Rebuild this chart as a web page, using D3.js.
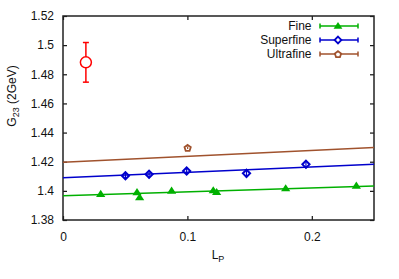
<!DOCTYPE html>
<html>
<head>
<meta charset="utf-8">
<script src="https://cdn.jsdelivr.net/npm/d3@7"></script>
<style>
  body { margin: 0; background: #fff; }
  text { font-family: "Liberation Sans", Arial, sans-serif; font-size: 12px; fill: #111; }
</style>
</head>
<body>
<svg id="chart" width="399" height="279"></svg>
<script>
// data
const fineLP = [0.0303, 0.0595, 0.0616, 0.0873, 0.1208, 0.1235, 0.179, 0.2358];
const fineG = [1.3978, 1.3990, 1.3955, 1.4001, 1.4003, 1.3991, 1.4017, 1.4035];
const superLP = [0.0502, 0.0692, 0.0994, 0.1475, 0.1953];
const superG = [1.4104, 1.4114, 1.4136, 1.4120, 1.4182];
const ultraLP = [0.1002];
const ultraG = [1.4296];
const ultraErr = [0.0008];
const contLP = [0.0184];
const contG = [1.4882];
const contErr = [0.0136];
// fit lines: value at L_P = 0 and L_P = 0.25
const fitEnds = [0, 0.25];
const fineFit = [1.3967, 1.4033];
const superFit = [1.4090, 1.4182];
const ultraFit = [1.4197, 1.4297];
const yTicks = [1.38, 1.40, 1.42, 1.44, 1.46, 1.48, 1.50, 1.52];
const xTicks = [0, 0.1, 0.2];
const seriesNames = ["Fine", "Superfine", "Ultrafine"];

const GREEN = "#00b000", BLUE = "#0000cc", BROWN = "#a0522d", RED = "#ff0000";

const svg = d3.select("#chart");
const MARGIN = { left: 63, right: 25, top: 16, bottom: 59 };
const W = 399, H = 279;

const x = d3.scaleLinear().domain([0, 0.25]).range([MARGIN.left, W - MARGIN.right]);
const y = d3.scaleLinear().domain([1.38, 1.52]).range([H - MARGIN.bottom, MARGIN.top]);

const yFmt = d => String(+d.toFixed(2));
const xFmt = d => String(+d.toFixed(1));

// axes with inward ticks, mirrored on the opposite sides
svg.append("g").attr("transform", `translate(0,${y.range()[0]})`)
  .call(d3.axisBottom(x).tickValues(xTicks).tickFormat(xFmt).tickSizeInner(-4).tickSizeOuter(0).tickPadding(12));
svg.append("g").attr("transform", `translate(0,${y.range()[1]})`)
  .call(d3.axisTop(x).tickValues(xTicks).tickFormat("").tickSizeInner(-4).tickSizeOuter(0));
svg.append("g").attr("transform", `translate(${x.range()[0]},0)`)
  .call(d3.axisLeft(y).tickValues(yTicks).tickFormat(yFmt).tickSizeInner(-4).tickSizeOuter(0).tickPadding(9));
svg.append("g").attr("transform", `translate(${x.range()[1]},0)`)
  .call(d3.axisRight(y).tickValues(yTicks).tickFormat("").tickSizeInner(-4).tickSizeOuter(0));

svg.selectAll(".domain").remove();
svg.selectAll(".tick line").attr("stroke", "#111").attr("stroke-width", 1.2);
svg.selectAll(".tick text").style("font-size", "12px").attr("fill", "#111");

// frame
svg.append("rect")
  .attr("x", x.range()[0]).attr("y", y.range()[1])
  .attr("width", x.range()[1] - x.range()[0]).attr("height", y.range()[0] - y.range()[1])
  .attr("fill", "none").attr("stroke", "#222").attr("stroke-width", 1.5);

// fit lines
const fits = [[fineFit, GREEN], [superFit, BLUE], [ultraFit, BROWN]];
fits.forEach(([vals, col]) => {
  svg.append("line")
    .attr("x1", x(fitEnds[0])).attr("y1", y(vals[0]))
    .attr("x2", x(fitEnds[1])).attr("y2", y(vals[1]))
    .attr("stroke", col).attr("stroke-width", 1.5);
});

// marker helpers
const tri = (cx, cy, r) => `M${cx},${cy - r}L${cx + r * 1.1},${cy + r * 0.7}L${cx - r * 1.1},${cy + r * 0.7}Z`;
const dia = (cx, cy, r) => `M${cx},${cy - r}L${cx + r},${cy}L${cx},${cy + r}L${cx - r},${cy}Z`;
const pent = (cx, cy, r) => d3.range(5).map(i => {
  const a = -Math.PI / 2 + i * 2 * Math.PI / 5;
  return (i ? "L" : "M") + (cx + r * Math.cos(a)) + "," + (cy + r * Math.sin(a));
}).join("") + "Z";

function errBar(g, cx, cy0, cy1, col, w) {
  g.append("line").attr("x1", cx).attr("x2", cx).attr("y1", cy0).attr("y2", cy1)
    .attr("stroke", col).attr("stroke-width", w);
}

// Fine
const gF = svg.append("g");
fineLP.forEach((lp, i) => {
  gF.append("path").attr("d", tri(x(lp), y(fineG[i]), 4.2)).attr("fill", GREEN);
});

// Superfine
const gS = svg.append("g");
superLP.forEach((lp, i) => {
  errBar(gS, x(lp), y(superG[i]) - 4, y(superG[i]) + 4, BLUE, 1.2);
  gS.append("path").attr("d", dia(x(lp), y(superG[i]), 3.6))
    .attr("fill", "none").attr("stroke", BLUE).attr("stroke-width", 2);
});

// Ultrafine
const gU = svg.append("g");
ultraLP.forEach((lp, i) => {
  errBar(gU, x(lp), y(ultraG[i] + ultraErr[i]), y(ultraG[i] - ultraErr[i]), BROWN, 1.2);
  gU.append("path").attr("d", pent(x(lp), y(ultraG[i]) + 0.5, 3.3))
    .attr("fill", "none").attr("stroke", BROWN).attr("stroke-width", 1.8);
});

// continuum point
const gC = svg.append("g");
contLP.forEach((lp, i) => {
  const cx = x(lp), top = y(contG[i] + contErr[i]), bot = y(contG[i] - contErr[i]);
  errBar(gC, cx, top, bot, RED, 1.5);
  gC.append("line").attr("x1", cx - 3).attr("x2", cx + 3).attr("y1", top).attr("y2", top).attr("stroke", RED).attr("stroke-width", 1.5);
  gC.append("line").attr("x1", cx - 3).attr("x2", cx + 3).attr("y1", bot).attr("y2", bot).attr("stroke", RED).attr("stroke-width", 1.5);
  gC.append("circle").attr("cx", cx).attr("cy", y(contG[i])).attr("r", 5.5)
    .attr("fill", "#fff").attr("stroke", RED).attr("stroke-width", 1.5);
});

// legend
const legCols = [GREEN, BLUE, BROWN];
const legShapes = [
  (cx, cy) => ({ d: tri(cx, cy, 4), fill: GREEN, stroke: "none" }),
  (cx, cy) => ({ d: dia(cx, cy, 3.4), fill: "#fff", stroke: BLUE }),
  (cx, cy) => ({ d: pent(cx, cy + 0.5, 3.3), fill: "#fff", stroke: BROWN })
];
const legRowY = [26, 40, 54];
seriesNames.forEach((name, i) => {
  const ly = legRowY[i], col = legCols[i];
  svg.append("text").attr("x", 311.5).attr("y", ly + 4.3)
    .attr("text-anchor", "end").text(name);
  svg.append("line").attr("x1", 320).attr("x2", 358).attr("y1", ly).attr("y2", ly)
    .attr("stroke", col).attr("stroke-width", 1.5);
  [320, 358].forEach(ex => svg.append("line").attr("x1", ex).attr("x2", ex)
    .attr("y1", ly - 2.5).attr("y2", ly + 2.5).attr("stroke", col).attr("stroke-width", 1.5));
  const s = legShapes[i](338, ly);
  svg.append("path").attr("d", s.d).attr("fill", s.fill)
    .attr("stroke", s.stroke).attr("stroke-width", 1.8);
});

// axis titles
const xl = svg.append("text").attr("x", 218).attr("y", 259).attr("text-anchor", "middle");
xl.append("tspan").text("L");
xl.append("tspan").attr("dy", 3).style("font-size", "9px").text("P");

const yl = svg.append("text").attr("transform", "translate(15.5,96) rotate(-90)")
  .attr("text-anchor", "middle");
yl.append("tspan").text("G");
yl.append("tspan").attr("dy", 3).style("font-size", "9px").text("23");
yl.append("tspan").attr("dy", -3).text(" (2GeV)");
</script>
</body>
</html>
